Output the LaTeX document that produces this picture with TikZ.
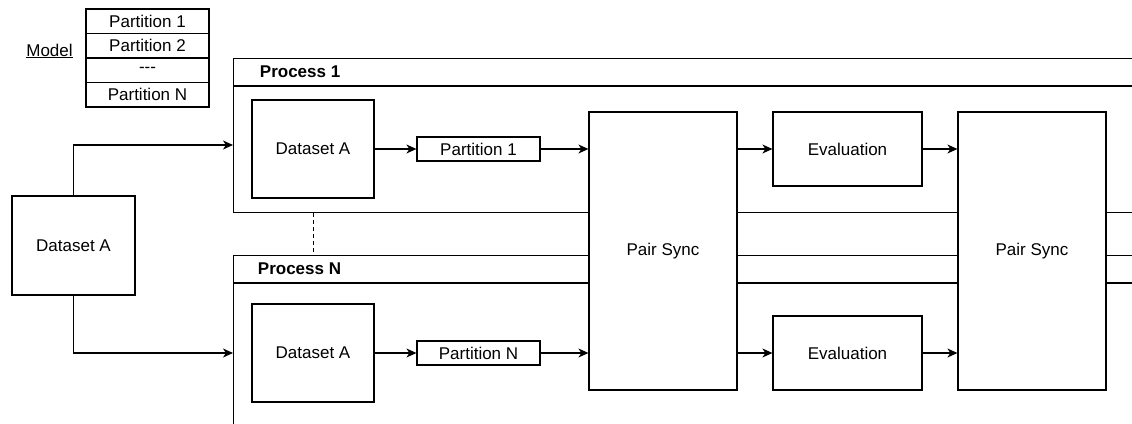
\documentclass[tikz,border=0pt]{standalone}
\usepackage{fontspec}
\setmainfont{Liberation Sans}[Ligatures=NoCommon]
\usetikzlibrary{arrows.meta}
\begin{document}
\begin{tikzpicture}[x=1pt,y=-1pt,
  line width=1.2pt,
  every node/.style={font=\fontsize{17}{20}\selectfont},
  box/.style={draw, fill=white, inner sep=0pt},
  container/.style={draw, inner sep=0pt, anchor=north west, minimum width=912pt},
  arr/.style={-{Stealth[length=10pt,width=9pt,inset=3pt]}},
  title/.style={anchor=west, font=\bfseries\fontsize{17}{20}\selectfont}]
\useasboundingbox (0,0) rectangle (1132,423);
\clip (0,0) rectangle (1132,423);

% model table
\node (model) at (49.5,51) {\underline{Model}};
\node[box, minimum width=123pt, minimum height=24.5pt] (m1) at (147.5,21.25) {Partition 1};
\node[box, minimum width=123pt, minimum height=24.5pt] (m2) at (147.5,45.75) {Partition 2};
\node[box, minimum width=123pt, minimum height=24.5pt] (m3) at (147.5,70.25) {-{}-{}-};
\node[box, minimum width=123pt, minimum height=24.5pt] (m4) at (147.5,94.75) {Partition N};

% process containers
\node[container, minimum height=154pt] (p1) at (233,58) {};
\draw (p1.north west) ++(0,28) -- ++(912,0);
\node[title] (p1t) at (256,72) {Process 1};
\node[container, minimum height=220pt] (pN) at (233,255) {};
\draw (pN.north west) ++(0,28) -- ++(912,0);
\node[title] (pNt) at (254,269) {Process N};

% left dataset
\node[box, minimum width=123pt, minimum height=99pt] (dsL) at (73.5,245.5) {Dataset A};
\coordinate (in1) at (233,145);
\coordinate (inN) at (233,353);
\draw[arr] (dsL.north) |- (in1);
\draw[arr] (dsL.south) |- (inN);

% inner datasets and partitions
\node[box, minimum width=122pt, minimum height=98pt] (ds1) at (313,149) {Dataset A};
\node[box, minimum width=122pt, minimum height=98pt] (dsN) at (313,353) {Dataset A};
\node[box, minimum width=123pt, minimum height=24pt] (part1) at (478.5,149) {Partition 1};
\node[box, minimum width=123pt, minimum height=24pt] (partN) at (478.5,353) {Partition N};
\draw[line width=1pt, dash pattern=on 4pt off 3pt] (ds1.south |- p1.south) -- (ds1.south |- pN.north);

% pair syncs and evaluations
\node[box, minimum width=148pt, minimum height=278pt] (ps1) at (663,251) {Pair Sync};
\node[box, minimum width=148pt, minimum height=278pt] (ps2) at (1032,251) {Pair Sync};
\node[box, minimum width=149pt, minimum height=74pt] (eval1) at (847.5,149) {Evaluation};
\node[box, minimum width=149pt, minimum height=74pt] (evalN) at (847.5,353) {Evaluation};

\draw[arr] (ds1.east) -- (part1.west);
\draw[arr] (dsN.east) -- (partN.west);
\draw[arr] (part1.east) -- (part1.east -| ps1.west);
\draw[arr] (partN.east) -- (partN.east -| ps1.west);
\draw[arr] (ps1.east |- eval1.west) -- (eval1.west);
\draw[arr] (ps1.east |- evalN.west) -- (evalN.west);
\draw[arr] (eval1.east) -- (eval1.east -| ps2.west);
\draw[arr] (evalN.east) -- (evalN.east -| ps2.west);
\end{tikzpicture}
\end{document}
